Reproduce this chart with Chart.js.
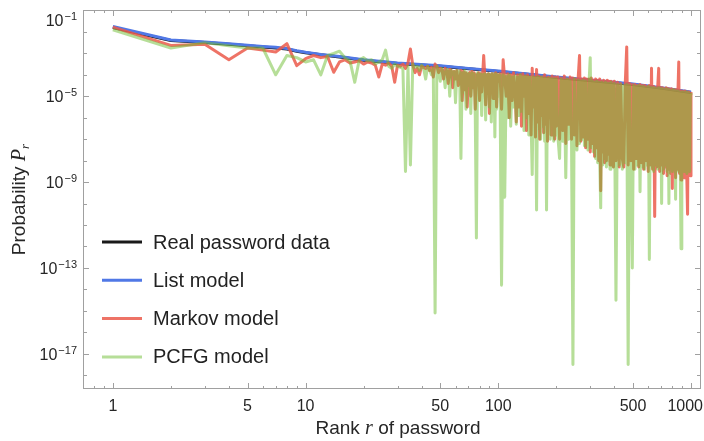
<!DOCTYPE html>
<html>
<head>
<meta charset="utf-8">
<script src="https://cdn.jsdelivr.net/npm/chart.js@4.4.1/dist/chart.umd.min.js"></script>
<style>
  html, body { margin: 0; padding: 0; background: #ffffff; }
  #contenedor { width: 704px; height: 441px; }
</style>
</head>
<body>
<div id="contenedor"><canvas id="graficoRangos" width="704" height="441"></canvas></div>
<script>
// Rangos de las curvas suaves (datos reales y modelo de lista)
const rangosSuaves = [1, 2, 3, 4, 5, 6, 7, 8, 9, 10, 12, 15, 20, 30, 50, 70, 100, 150, 200, 300, 500, 700, 1000];
// log10 de la probabilidad
const logReal  = [-1.8, -2.4, -2.5, -2.58, -2.65, -2.7, -2.75, -2.8, -2.9, -2.97, -3.07, -3.17, -3.32, -3.47, -3.6, -3.72, -3.84, -4.0, -4.12, -4.26, -4.45, -4.62, -4.83];
const logLista = [-1.75, -2.38, -2.47, -2.55, -2.62, -2.68, -2.72, -2.78, -2.88, -2.95, -3.05, -3.15, -3.3, -3.45, -3.58, -3.7, -3.82, -3.98, -4.1, -4.24, -4.43, -4.6, -4.8];

// Rangos muestreados para Markov y PCFG: [desde, hasta, paso]
const tramosRango = [[1, 100, 1], [102, 200, 2], [204, 400, 4], [408, 1000, 8]];

const logMarkov = [
  // 1-100
  -1.78, -2.63, -2.58, -3.3, -2.75, -2.85, -2.94, -2.55, -3.57, -3.25,
  -3.1, -3.2, -3.15, -3.88, -3.4, -3.3, -3.45, -3.4, -3.35, -3.5,
  -3.4, -3.45, -3.55, -4.1, -3.5, -3.55, -3.45, -3.6, -4.35, -3.55,
  -3.6, -3.5, -3.7, -3.45, -2.8, -3.55, -3.9, -3.7, -4.0, -3.6,
  -3.65, -3.7, -3.6, -3.8, -3.65, -4.1, -3.5, -3.6, -3.9, -3.7,
  -3.75, -4.2, -3.7, -3.8, -4.4, -3.75, -3.8, -4.6, -3.85, -4.2,
  -3.8, -4.5, -4.3, -3.8, -5.2, -3.85, -4.7, -3.9, -5.5, -4.0,
  -3.9, -5.0, -3.85, -4.6, -3.9, -5.6, -4.0, -4.3, -3.9, -5.2,
  -3.95, -4.8, -4.0, -3.1, -3.95, -5.4, -4.0, -4.5, -3.95, -5.8,
  -4.0, -4.4, -3.95, -5.1, -4.0, -4.6, -3.9, -5.5, -4.0, -4.3,
  // 102-200
  -3.95, -5.6, -3.3, -4.2, -5.0, -3.95, -6.0, -4.0, -5.2, -3.9,
  -4.6, -6.2, -4.0, -5.5, -4.0, -6.4, -3.95, -5.0, -4.05, -6.6,
  -4.0, -5.8, -4.1, -6.8, -3.7, -5.5, -4.1, -6.9, -3.75, -6.2,
  -4.05, -7.0, -4.1, -5.9, -4.1, -6.7, -4.0, -6.3, -4.15, -7.1,
  -4.1, -6.0, -4.15, -6.8, -4.05, -6.5, -4.15, -7.0, -4.1, -6.4,
  // 204-400
  -4.1, -7.0, -4.15, -6.6, -4.05, -7.2, -4.2, -6.3, -4.1, -7.0,
  -4.15, -6.8, -4.2, -7.3, -4.1, -3.1, -7.1, -4.2, -6.9, -4.15,
  -7.4, -4.2, -7.0, -4.2, -7.6, -4.15, -7.2, -4.25, -7.8, -4.2,
  -7.4, -4.25, -8.0, -4.2, -9.4, -4.3, -7.6, -4.25, -8.1, -4.3,
  -8.0, -4.25, -7.7, -4.3, -8.2, -4.3, -7.9, -4.35, -8.3, -4.3,
  // 408-1000
  -8.0, -4.35, -8.3, -4.4, -7.9, -8.3, -4.4, -2.7, -8.2, -4.4,
  -8.0, -4.45, -8.4, -4.45, -7.9, -4.5, -8.3, -4.45, -8.1, -4.5,
  -8.4, -4.5, -8.0, -4.55, -8.5, -4.5, -8.2, -3.7, -8.4, -4.55,
  -10.6, -4.6, -8.3, -4.55, -3.7, -8.5, -4.6, -8.2, -4.6, -8.6,
  -4.65, -8.3, -4.6, -8.7, -4.65, -8.4, -4.7, -8.6, -4.65, -9.3,
  -4.7, -8.5, -4.7, -8.8, -4.7, -8.4, -4.75, -3.4, -8.6, -4.75,
  -8.9, -4.75, -8.5, -4.8, -8.8, -4.75, -8.6, -4.8, -8.9, -10.5,
  -4.8, -8.7, -4.85, -8.7, -4.8
];

const logPcfg = [
  // 1-100
  -1.9, -2.75, -2.5, -2.65, -2.75, -2.75, -4.0, -3.1, -3.2, -3.4,
  -3.3, -4.0, -3.1, -3.0, -2.9, -3.2, -3.35, -4.35, -3.3, -3.2,
  -3.35, -3.3, -3.5, -3.4, -3.3, -2.85, -3.6, -3.7, -3.5, -3.6,
  -3.65, -3.7, -8.5, -3.6, -8.2, -3.5, -3.65, -3.6, -3.8, -3.55,
  -3.7, -4.2, -3.6, -3.75, -4.0, -3.7, -15.1, -3.6, -3.8, -4.3,
  -3.7, -3.85, -4.6, -3.75, -3.8, -5.0, -3.8, -4.0, -3.85, -5.3,
  -3.8, -4.2, -3.85, -7.9, -3.9, -4.8, -3.8, -5.6, -3.9, -4.5,
  -3.95, -5.8, -3.9, -4.4, -3.95, -6.0, -11.6, -3.9, -5.2, -4.0,
  -3.95, -5.9, -4.0, -4.6, -3.95, -6.1, -4.0, -5.0, -3.95, -5.5,
  -4.0, -6.2, -3.95, -4.8, -4.0, -6.9, -3.95, -5.6, -4.0, -5.0,
  // 102-200
  -4.0, -13.8, -4.0, -9.7, -4.05, -6.0, -4.0, -6.4, -4.1, -5.5,
  -4.05, -6.3, -4.1, -5.9, -4.0, -5.7, -4.1, -6.6, -4.05, -6.0,
  -4.1, -6.8, -4.1, -6.2, -8.65, -4.1, -6.9, -4.15, -10.3, -4.1,
  -6.5, -4.15, -7.0, -4.1, -6.4, -4.2, -7.1, -4.15, -10.3, -4.2,
  -6.7, -4.15, -7.0, -4.2, -6.3, -4.2, -7.1, -4.2, -6.8, -4.2,
  // 204-400
  -6.9, -7.9, -4.2, -7.1, -4.25, -8.8, -4.2, -7.0, -4.25, -7.2,
  -17.5, -4.2, -7.1, -7.5, -4.25, -7.2, -4.3, -7.0, -4.25, -7.3,
  -4.3, -7.2, -7.5, -4.3, -3.2, -7.4, -4.3, -7.6, -4.35, -7.9,
  -4.3, -8.1, -4.35, -7.8, -10.2, -4.35, -8.2, -4.4, -7.9, -4.35,
  -8.3, -4.4, -8.0, -4.4, -8.4, -4.35, -8.1, -4.45, -8.3, -4.4,
  // 408-1000
  -14.5, -4.45, -8.2, -4.45, -8.4, -4.5, -8.1, -4.45, -17.5, -4.5,
  -8.3, -13.0, -4.5, -8.4, -4.55, -8.2, -4.5, -9.45, -4.55, -8.3,
  -4.55, -8.4, -4.6, -8.2, -4.55, -12.6, -4.6, -8.3, -4.6, -8.5,
  -4.6, -8.2, -4.65, -8.4, -4.6, -8.3, -4.65, -10.0, -4.65, -8.4,
  -4.7, -8.2, -4.65, -8.5, -4.7, -10.0, -4.7, -8.3, -4.75, -8.5,
  -4.7, -8.4, -4.75, -9.8, -4.75, -8.3, -4.75, -8.5, -4.8, -8.4,
  -12.1, -4.8, -8.3, -4.8, -8.5, -4.85, -8.4, -4.8, -8.6, -4.85,
  -8.4, -4.85, -8.5, -4.9, -4.85
];

// Marcas de los ejes
const marcasX = [0.8, 0.9, 1, 2, 3, 4, 5, 6, 7, 8, 9, 10, 20, 30, 40, 50, 60, 70, 80, 90,
                 100, 200, 300, 400, 500, 600, 700, 800, 900, 1000];
const etiquetasX = [1, 5, 10, 50, 100, 500, 1000];
const exponentesY = [-18, -17, -16, -15, -14, -13, -12, -11, -10, -9, -8, -7, -6, -5, -4, -3, -2, -1];
const etiquetasY = [-1, -5, -9, -13, -17];

const nombresSeries = ['Real password data', 'List model', 'Markov model', 'PCFG model'];
const coloresSeries = ['rgb(25,25,25)', 'rgb(80,120,230)', 'rgba(235,90,75,0.85)', 'rgba(110,190,50,0.5)'];

// Construir la lista de rangos a partir de los tramos
const rangos = [];
tramosRango.forEach(([desde, hasta, paso]) => {
    for (let r = desde; r <= hasta; r += paso) rangos.push(r);
});

const aPuntos = (xs, logs) => xs.map((r, i) => ({ x: r, y: Math.pow(10, logs[i]) }));

const fuente = '"Liberation Sans", Arial, Helvetica, sans-serif';
const fuenteSerif = '"Liberation Serif", "Times New Roman", serif';

// Marco con marcas hacia dentro, etiquetas, títulos y leyenda
const marcoPlugin = {
    id: 'marco',
    afterDatasetsDraw(chart) {
        const { ctx, chartArea: a, scales: { x, y } } = chart;
        ctx.save();

        // marco
        ctx.strokeStyle = '#a0a0a0';
        ctx.lineWidth = 1;
        ctx.strokeRect(a.left + 0.5, a.top + 0.5, a.right - a.left - 1, a.bottom - a.top - 1);

        const linea = (x1, y1, x2, y2) => {
            ctx.beginPath();
            ctx.moveTo(x1, y1);
            ctx.lineTo(x2, y2);
            ctx.stroke();
        };

        marcasX.forEach(v => {
            const px = Math.round(x.getPixelForValue(v)) + 0.5;
            const largo = etiquetasX.includes(v) ? 6 : 3;
            linea(px, a.bottom, px, a.bottom - largo);
            linea(px, a.top, px, a.top + largo);
        });
        exponentesY.forEach(e => {
            const py = Math.round(y.getPixelForValue(Math.pow(10, e))) + 0.5;
            const largo = etiquetasY.includes(e) ? 6 : 4;
            linea(a.left, py, a.left + largo, py);
            linea(a.right, py, a.right - largo, py);
        });

        // etiquetas del eje x
        ctx.fillStyle = '#262626';
        ctx.font = '16px ' + fuente;
        ctx.textAlign = 'center';
        ctx.textBaseline = 'middle';
        etiquetasX.forEach(v => {
            const texto = String(v);
            let px = x.getPixelForValue(v);
            const ancho = ctx.measureText(texto).width;
            if (px + ancho / 2 > chart.width - 1) px = chart.width - 1 - ancho / 2;
            ctx.fillText(texto, px, a.bottom + 18);
        });

        // etiquetas del eje y: 10 con exponente
        ctx.textAlign = 'right';
        ctx.textBaseline = 'alphabetic';
        etiquetasY.forEach(e => {
            const py = Math.max(y.getPixelForValue(Math.pow(10, e)), a.top + 10);
            const exp = '\u2212' + Math.abs(e);
            ctx.font = '11px ' + fuente;
            const anchoExp = ctx.measureText(exp).width;
            ctx.fillText(exp, a.left - 6, py);
            ctx.font = '16px ' + fuente;
            ctx.fillText('10', a.left - 7 - anchoExp, py + 6);
        });

        // título del eje x: "Rank r of password"
        const partesX = [
            { t: 'Rank ', f: '19px ' + fuente },
            { t: 'r', f: 'italic 20px ' + fuenteSerif },
            { t: ' of password', f: '19px ' + fuente }
        ];
        let total = 0;
        partesX.forEach(p => { ctx.font = p.f; p.w = ctx.measureText(p.t).width; total += p.w; });
        let cx = 398 - total / 2;
        ctx.textAlign = 'left';
        partesX.forEach(p => { ctx.font = p.f; ctx.fillText(p.t, cx, 434); cx += p.w; });

        // título del eje y: "Probability P_r"
        ctx.save();
        ctx.translate(25, (a.top + a.bottom) / 2);
        ctx.rotate(-Math.PI / 2);
        ctx.font = '19px ' + fuente;
        const w1 = ctx.measureText('Probability ').width;
        ctx.font = 'italic 20px ' + fuenteSerif;
        const w2 = ctx.measureText('P').width;
        ctx.font = 'italic 13px ' + fuenteSerif;
        const w3 = ctx.measureText('r').width;
        let ly = -(w1 + w2 + w3) / 2;
        ctx.font = '19px ' + fuente;
        ctx.fillText('Probability ', ly, 0);
        ly += w1;
        ctx.font = 'italic 20px ' + fuenteSerif;
        ctx.fillText('P', ly, 0);
        ly += w2;
        ctx.font = 'italic 13px ' + fuenteSerif;
        ctx.fillText('r', ly, 4);
        ctx.restore();

        // leyenda
        ctx.font = '20px ' + fuente;
        ctx.textBaseline = 'middle';
        ctx.textAlign = 'left';
        nombresSeries.forEach((nombre, i) => {
            const ly2 = a.top + 232 + i * 38.3;
            ctx.strokeStyle = coloresSeries[i];
            ctx.lineWidth = 3;
            linea(a.left + 19, ly2, a.left + 59, ly2);
            ctx.fillStyle = '#222222';
            ctx.fillText(nombre, a.left + 70, ly2 + 1);
        });

        ctx.restore();
    }
};

const estiloLinea = {
    pointRadius: 0,
    borderWidth: 3,
    tension: 0,
    fill: false,
    borderJoinStyle: 'round'
};

const ctx = document.getElementById('graficoRangos').getContext('2d');
new Chart(ctx, {
    type: 'line',
    data: {
        datasets: [
            { label: nombresSeries[0], data: aPuntos(rangosSuaves, logReal), borderColor: coloresSeries[0], order: 4, ...estiloLinea },
            { label: nombresSeries[1], data: aPuntos(rangosSuaves, logLista), borderColor: coloresSeries[1], order: 3, ...estiloLinea },
            { label: nombresSeries[2], data: aPuntos(rangos, logMarkov), borderColor: coloresSeries[2], order: 2, ...estiloLinea },
            { label: nombresSeries[3], data: aPuntos(rangos, logPcfg), borderColor: coloresSeries[3], order: 1, ...estiloLinea }
        ]
    },
    options: {
        responsive: false,
        animation: false,
        devicePixelRatio: 1,
        layout: { padding: { left: 83, right: 3, top: 10, bottom: 52 } },
        scales: {
            x: { type: 'logarithmic', min: 0.734, max: 1127, display: false },
            y: { type: 'logarithmic', min: Math.pow(10, -18.64), max: Math.pow(10, -0.98), display: false }
        },
        plugins: {
            legend: { display: false },
            tooltip: { enabled: false }
        }
    },
    plugins: [marcoPlugin]
});
</script>
</body>
</html>
